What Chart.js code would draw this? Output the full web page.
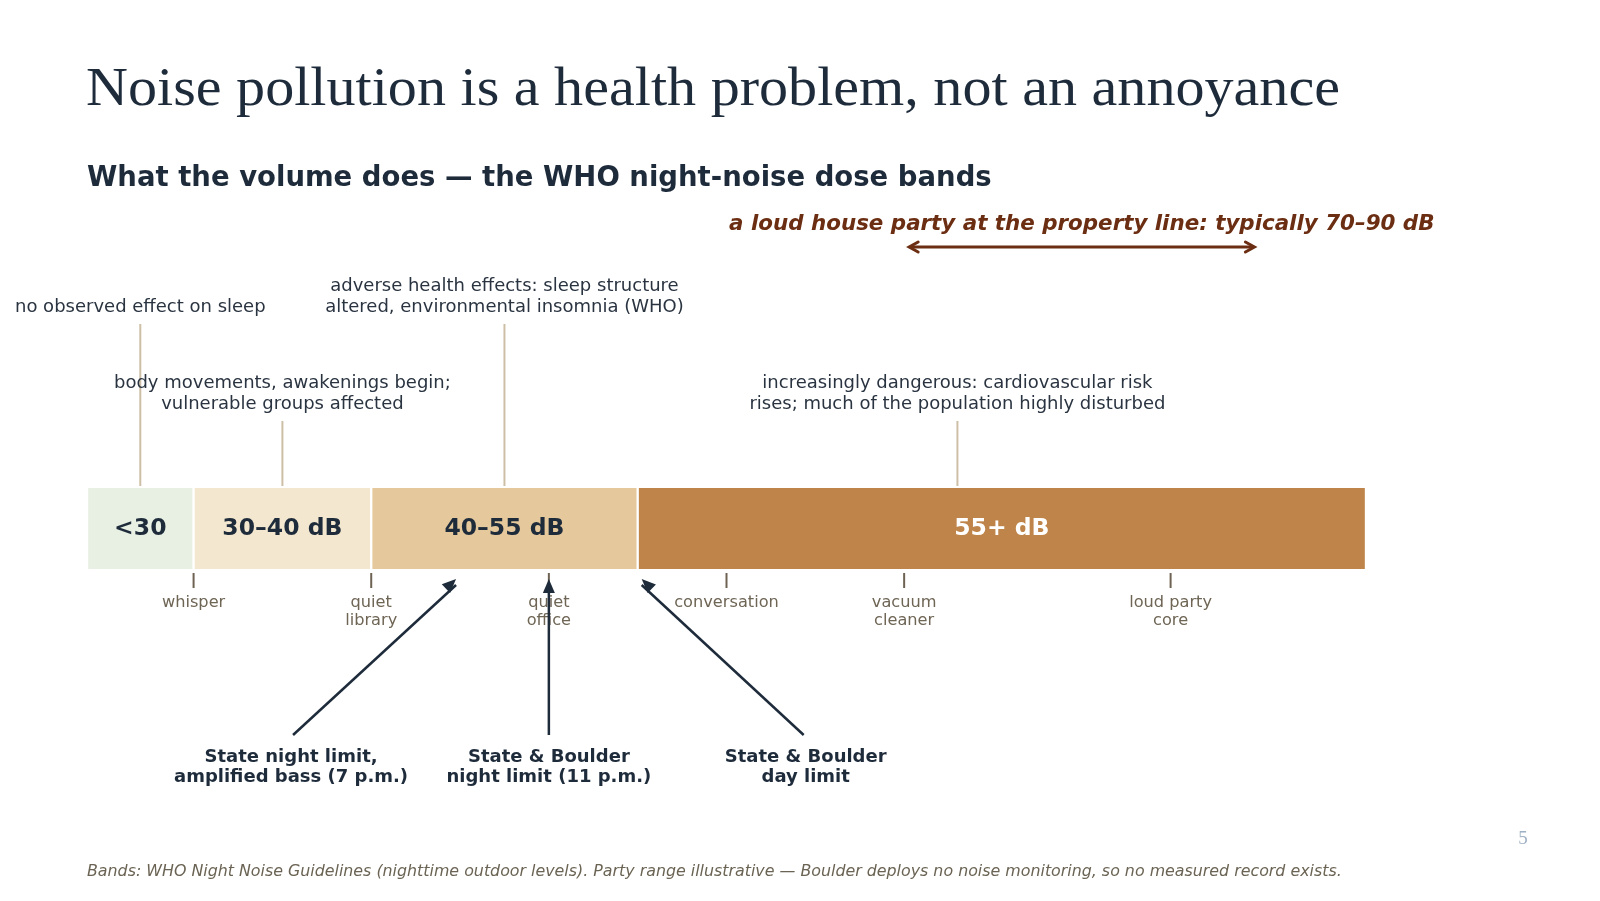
<!DOCTYPE html>
<html>
<head>
<meta charset="utf-8">
<script src="https://cdn.jsdelivr.net/npm/chart.js@4.4.0/dist/chart.umd.min.js"></script>
<style>
  html, body { margin: 0; background: #ffffff; }
  canvas { display: block; }
</style>
</head>
<body>
<canvas id="chart" width="1600" height="901"></canvas>
<script>
// dose bands (dB)
const bandLabels = ['<30', '30–40 dB', '40–55 dB', '55+ dB'];
const bandStart = [24, 30, 40, 55];
const bandEnd = [30, 40, 55, 96];
const bandColors = ['#e8f0e4', '#f3e8cf', '#e5c89b', '#bf844a'];
const bandTextColors = ['#1e2b3b', '#1e2b3b', '#1e2b3b', '#ffffff'];

// health effect callouts above the bar
const effectText = [
  ['no observed effect on sleep'],
  ['body movements, awakenings begin;', 'vulnerable groups affected'],
  ['adverse health effects: sleep structure', 'altered, environmental insomnia (WHO)'],
  ['increasingly dangerous: cardiovascular risk', 'rises; much of the population highly disturbed']
];
const effectDb = [27, 35, 47.5, 73];

// everyday reference sounds below the bar
const refNames = [['whisper'], ['quiet', 'library'], ['quiet', 'office'], ['conversation'], ['vacuum', 'cleaner'], ['loud party', 'core']];
const refDb = [30, 40, 50, 60, 70, 85];

// legal limits
const limitNames = [
  ['State night limit,', 'amplified bass (7 p.m.)'],
  ['State & Boulder', 'night limit (11 p.m.)'],
  ['State & Boulder', 'day limit']
];
const limitDb = [45, 50, 55];

const partyRange = [70, 90];
const partyText = 'a loud house party at the property line: typically 70–90 dB';

const titleText = 'Noise pollution is a health problem, not an annoyance';
const subtitleText = 'What the volume does — the WHO night-noise dose bands';
const footText = 'Bands: WHO Night Noise Guidelines (nighttime outdoor levels). Party range illustrative — Boulder deploys no noise monitoring, so no measured record exists.';

const SANS = '"DejaVu Sans", sans-serif';
const SERIF = '"Liberation Serif", serif';

function line(ctx, x1, y1, x2, y2, color, width) {
  ctx.strokeStyle = color;
  ctx.lineWidth = width;
  ctx.beginPath();
  ctx.moveTo(x1, y1);
  ctx.lineTo(x2, y2);
  ctx.stroke();
}

function filledHead(ctx, x1, y1, x2, y2, color) {
  // triangle at (x2, y2) pointing away from (x1, y1)
  const a = Math.atan2(y2 - y1, x2 - x1);
  const len = 14, half = 6;
  ctx.fillStyle = color;
  ctx.beginPath();
  ctx.moveTo(x2, y2);
  ctx.lineTo(x2 - len * Math.cos(a) + half * Math.sin(a), y2 - len * Math.sin(a) - half * Math.cos(a));
  ctx.lineTo(x2 - len * Math.cos(a) - half * Math.sin(a), y2 - len * Math.sin(a) + half * Math.cos(a));
  ctx.closePath();
  ctx.fill();
}

function chevron(ctx, x, y, dir, color) {
  ctx.strokeStyle = color;
  ctx.lineWidth = 3;
  ctx.lineCap = 'round';
  ctx.beginPath();
  ctx.moveTo(x - dir * 9, y - 5);
  ctx.lineTo(x, y);
  ctx.lineTo(x - dir * 9, y + 5);
  ctx.stroke();
  ctx.lineCap = 'butt';
}

const notes = {
  id: 'notes',
  afterDraw(chart) {
    const ctx = chart.ctx;
    const x = chart.scales.x;
    const area = chart.chartArea;
    ctx.save();

    // title, fitted to the slide width
    ctx.font = '55px ' + SERIF;
    ctx.fillStyle = '#1e2b3b';
    ctx.textBaseline = 'alphabetic';
    ctx.textAlign = 'left';
    const tw = ctx.measureText(titleText).width;
    ctx.save();
    ctx.translate(86, 105);
    ctx.scale(1254 / tw, 1);
    ctx.fillText(titleText, 0, 0);
    ctx.restore();

    ctx.font = 'bold 27.5px ' + SANS;
    ctx.textBaseline = 'middle';
    ctx.fillText(subtitleText, 87, 179);

    // band labels
    ctx.textAlign = 'center';
    ctx.font = 'bold 23.5px ' + SANS;
    bandLabels.forEach((lab, i) => {
      const c = chart.getDatasetMeta(i).data[0].getCenterPoint();
      ctx.fillStyle = bandTextColors[i];
      ctx.fillText(lab, c.x, c.y);
    });

    // effect callouts, alternating tiers
    ctx.font = '18px ' + SANS;
    effectText.forEach((lines, i) => {
      const px = x.getPixelForValue(effectDb[i]);
      const last = i % 2 === 0 ? 307 : 404;
      ctx.fillStyle = '#2a3441';
      lines.forEach((t, j) => ctx.fillText(t, px, last - (lines.length - 1 - j) * 20.5));
      line(ctx, px, last + 17, px, area.top - 2, '#cdbfa6', 2);
    });

    // reference ticks
    ctx.font = '16.2px ' + SANS;
    refNames.forEach((lines, i) => {
      const px = x.getPixelForValue(refDb[i]);
      line(ctx, px, area.bottom + 4, px, area.bottom + 19, '#6e6352', 2);
      ctx.fillStyle = '#6e6555';
      lines.forEach((t, j) => ctx.fillText(t, px, 603 + j * 17.5));
    });

    // legal limit arrows
    const tailOffset = [-167, 0, 166];
    const labelNudge = [-2, 0, 2];
    ctx.font = 'bold 18px ' + SANS;
    limitNames.forEach((lines, i) => {
      const tip = x.getPixelForValue(limitDb[i]) + (i === 2 ? 4 : i === 0 ? -4 : 0);
      const tail = x.getPixelForValue(limitDb[i]) + tailOffset[i];
      const tipY = 579, tailY = 735;
      line(ctx, tail, tailY, tip, tipY + 6, '#1e2b3b', 2.5);
      filledHead(ctx, tail, tailY, tip, tipY, '#1e2b3b');
      ctx.fillStyle = '#1e2b3b';
      lines.forEach((t, j) => ctx.fillText(t, tail + labelNudge[i], 757 + j * 20.5));
    });

    // party range
    const p1 = x.getPixelForValue(partyRange[0]) + 5;
    const p2 = x.getPixelForValue(partyRange[1]) - 5;
    const brown = '#6b2e12';
    line(ctx, p1 + 1, 247, p2 - 1, 247, brown, 3);
    chevron(ctx, p1, 247, -1, brown);
    chevron(ctx, p2, 247, 1, brown);
    ctx.font = 'italic bold 21.4px ' + SANS;
    ctx.fillStyle = brown;
    ctx.fillText(partyText, (p1 + p2) / 2, 224);

    // footnote and page number
    ctx.textAlign = 'left';
    ctx.font = 'italic 15.85px ' + SANS;
    ctx.fillStyle = '#6b6454';
    ctx.fillText(footText, 87, 872);
    ctx.textAlign = 'center';
    ctx.font = '19px ' + SERIF;
    ctx.fillStyle = '#9fb1c4';
    ctx.fillText('5', 1523, 839);

    ctx.restore();
  }
};

new Chart(document.getElementById('chart'), {
  type: 'bar',
  data: {
    labels: ['dose'],
    datasets: bandLabels.map((lab, i) => ({
      label: lab,
      data: [[bandStart[i], bandEnd[i]]],
      backgroundColor: bandColors[i],
      borderColor: '#ffffff',
      borderWidth: { left: 1.5, right: 1.5, top: 0, bottom: 0 },
      borderSkipped: false,
      grouped: false,
      barPercentage: 1,
      categoryPercentage: 1
    }))
  },
  options: {
    indexAxis: 'y',
    responsive: false,
    animation: false,
    layout: { padding: { left: 87, right: 234, top: 488, bottom: 332 } },
    scales: {
      x: { type: 'linear', min: 24, max: 96, display: false },
      y: { display: false }
    },
    plugins: {
      legend: { display: false },
      tooltip: { enabled: false }
    }
  },
  plugins: [notes]
});
</script>
</body>
</html>
